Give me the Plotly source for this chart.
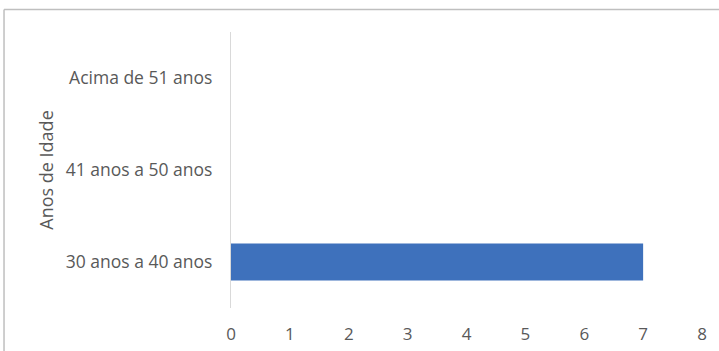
import plotly.graph_objects as go

# Age bands and number of respondents in each
faixas = ["30 anos a 40 anos", "41 anos a 50 anos", "Acima de 51 anos"]
quantidade = [7, 0, 0]
x_ticks = [0, 1, 2, 3, 4, 5, 6, 7, 8]

font_family = "Open Sans, Liberation Sans, sans-serif"
text_gray = "#595959"

fig = go.Figure(
    go.Bar(
        x=quantidade,
        y=faixas,
        orientation="h",
        marker=dict(color="#3E71BC", line=dict(width=0)),
        width=0.4,
    )
)

fig.update_layout(
    width=719,
    height=351,
    margin=dict(l=231, r=17, t=32, b=43),
    paper_bgcolor="white",
    plot_bgcolor="white",
    showlegend=False,
    font=dict(family=font_family, color=text_gray, size=17),
    xaxis=dict(
        range=[0, 8],
        tickvals=x_ticks,
        showgrid=False,
        zeroline=False,
        showline=False,
        automargin=False,
        ticks="outside",
        ticklen=11,
        tickcolor="rgba(0,0,0,0)",
        tickfont=dict(size=17, color=text_gray),
        fixedrange=True,
    ),
    yaxis=dict(
        categoryorder="array",
        categoryarray=faixas,
        showgrid=False,
        zeroline=False,
        showline=True,
        linecolor="#D9D9D9",
        linewidth=1.2,
        automargin=False,
        ticks="outside",
        ticklen=14,
        tickcolor="rgba(0,0,0,0)",
        tickfont=dict(size=17.5, color=text_gray),
        title=dict(text="Anos de Idade", font=dict(size=18, color=text_gray), standoff=7),
        fixedrange=True,
    ),
)

# Outer chart frame (top and left edges)
frame = dict(color="#BFBFBF", width=1.5)
fig.add_shape(type="line", xref="paper", yref="paper",
              x0=-0.4819, x1=1.05, y0=1.0815, y1=1.0815, line=frame)
fig.add_shape(type="line", xref="paper", yref="paper",
              x0=-0.4819, x1=-0.4819, y0=-0.2, y1=1.0815, line=frame)

fig.write_html("out.html")
